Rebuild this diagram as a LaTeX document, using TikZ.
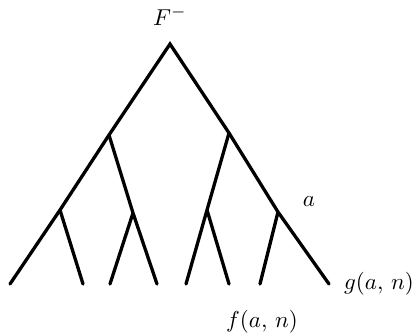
\documentclass[tikz,border=0pt]{standalone}
\usepackage{xcolor}
\usepackage{graphicx}
\usepackage{tikz}
\newcommand{\biglbl}[1]{\scalebox{2.3}{$#1$}}

\begin{document}
\begin{tikzpicture}[x=1pt, y=-1pt, line width=3.3pt, line cap=round,
    lbl/.style={inner sep=0pt}]
    \useasboundingbox (0,0) rectangle (415,334);
    % tree points
    \coordinate (root) at (170,44);
    \coordinate (l) at (109,135);
    \coordinate (r) at (229,133);
    \coordinate (ll) at (60,210);
    \coordinate (lr) at (133,213);
    \coordinate (rl) at (207,210);
    \coordinate (rr) at (278,212);
    \coordinate (x1) at (10,284);
    \coordinate (x2) at (83,284);
    \coordinate (x3) at (110,284);
    \coordinate (x4) at (157,284);
    \coordinate (x5) at (186,284);
    \coordinate (x6) at (229,284);
    \coordinate (x7) at (260,284);
    \coordinate (x8) at (329,284);
    \draw (x1) -- (ll) -- (l) -- (root) -- (r) -- (rr) -- (x8);
    \draw (l) -- (lr) -- (x4);
    \draw (r) -- (rl) -- (x5);
    \draw (ll) -- (x2);
    \draw (lr) -- (x3);
    \draw (rl) -- (x6);
    \draw (rr) -- (x7);
    \node[lbl] (top) at (170,16) {\biglbl{F^-}};
    \node[lbl] (alab) at (309,202) {\biglbl{a}};
    \node[lbl] (glab) at (379,284) {\biglbl{g(a,\,n)}};
    \node[lbl] (flab) at (262,322) {\biglbl{f(a,\,n)}};
  \end{tikzpicture}
\end{document}
